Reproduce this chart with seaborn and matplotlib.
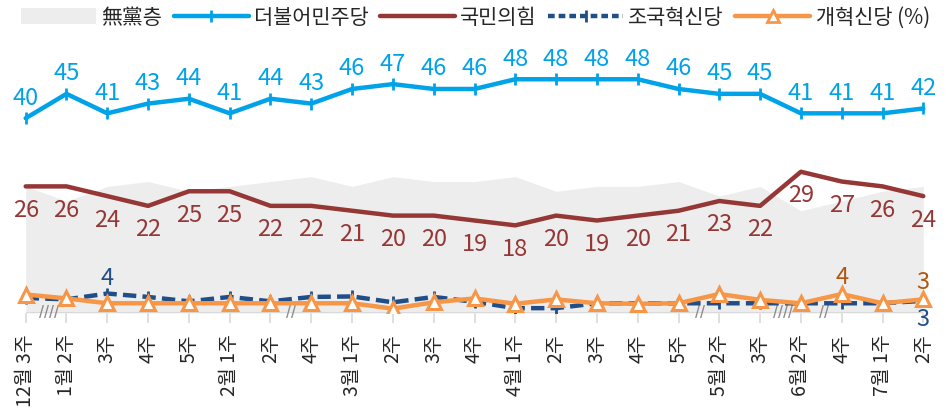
import matplotlib
matplotlib.use("Agg")
import matplotlib.pyplot as plt
import seaborn as sns
import numpy as np
import pandas as pd
from matplotlib.patches import Patch
from matplotlib.lines import Line2D

weeks = ["12월 3주", "1월 2주", "3주", "4주", "5주", "2월 1주", "2주", "4주",
         "3월 1주", "2주", "3주", "4주", "4월 1주", "2주", "3주", "4주", "5주",
         "5월 2주", "3주", "6월 2주", "4주", "7월 1주", "2주"]
none_party = [26, 23, 26, 27, 25, 26, 27, 28, 26, 28, 27, 27, 28, 25, 26, 26, 27, 24, 26, 21, 23, 25, 26]
democratic = [40, 45, 41, 43, 44, 41, 44, 43, 46, 47, 46, 46, 48, 48, 48, 48, 46, 45, 45, 41, 41, 41, 42]
ppp = [26, 26, 24, 22, 25, 25, 22, 22, 21, 20, 20, 19, 18, 20, 19, 20, 21, 23, 22, 29, 27, 26, 24]
rebuilding = [3.1, 2.8, 4.0, 3.3, 2.4, 3.3, 2.4, 3.3, 3.4, 2.2, 3.3, 2.3, 1.0, 1.0, 2.0, 2.0, 2.0, 2.0, 2.0, 2.0, 2.0, 2.0, 2.5]
reform = [3.8, 3.0, 2.0, 2.0, 2.0, 2.0, 2.0, 2.0, 2.0, 0.9, 2.2, 3.0, 1.9, 2.8, 2.0, 1.9, 2.0, 3.9, 2.7, 2.0, 3.9, 2.0, 2.8]
rebuilding_labels = {2: "4", 22: "3"}
reform_labels = {20: "4", 22: "3"}
breaks = [(0.56, "////"), (6.5, "//"), (16.52, "//"), (18.55, "////"), (19.57, "//")]

series_names = ["無黨층", "더불어민주당", "국민의힘", "조국혁신당", "개혁신당 (%)"]

C_GRAY = "#EDEDED"
C_BLUE = "#00A2E8"
C_RED = "#953735"
C_NAVY = "#1F4E89"
C_ORANGE = "#F79646"
C_ORANGE_TXT = "#B1560F"

sns.set_theme(style="white")
plt.rcParams["font.family"] = ["Noto Sans CJK KR", "DejaVu Sans"]

x = np.arange(len(weeks))
df = pd.DataFrame({"x": x, "none": none_party, "dem": democratic, "ppp": ppp,
                   "reb": rebuilding, "ref": reform})

fig = plt.figure(figsize=(9.51, 4.11), dpi=100)
ax = fig.add_axes([0.01415, 0.2384, 0.9696, 0.711])

ax.fill_between(df["x"], 0, df["none"], color=C_GRAY, lw=0, zorder=1)

sns.lineplot(data=df, x="x", y="dem", ax=ax, color=C_BLUE, lw=3.2, marker="|",
             markersize=8, markeredgewidth=2, markeredgecolor=C_BLUE, zorder=5)
sns.lineplot(data=df, x="x", y="ppp", ax=ax, color=C_RED, lw=3.2, zorder=5)
sns.lineplot(data=df, x="x", y="reb", ax=ax, color=C_NAVY, lw=3.2,
             linestyle=(0, (3.0, 1.4)), marker="|", markersize=8,
             markeredgewidth=2, markeredgecolor=C_NAVY, zorder=5)
sns.lineplot(data=df, x="x", y="ref", ax=ax, color=C_ORANGE, lw=3.2, marker="^",
             markersize=10, markerfacecolor="white", markeredgecolor=C_ORANGE,
             markeredgewidth=2.2, zorder=6)

# data labels
for xi, v in zip(x, democratic):
    ax.annotate(str(v), (xi, v), xytext=(0, 20), textcoords="offset pixels",
                ha="center", va="center", fontsize=17, color=C_BLUE, zorder=8)
for xi, v in zip(x, ppp):
    ax.annotate(str(v), (xi, v), xytext=(0, -24), textcoords="offset pixels",
                ha="center", va="center", fontsize=17, color=C_RED, zorder=8)
for i, t in rebuilding_labels.items():
    off = 15 if i == 2 else -19
    ax.annotate(t, (x[i], rebuilding[i]), xytext=(0, off), textcoords="offset pixels",
                ha="center", va="center", fontsize=17, color=C_NAVY, zorder=8,
                annotation_clip=False)
for i, t in reform_labels.items():
    ax.annotate(t, (x[i], reform[i]), xytext=(0, 17), textcoords="offset pixels",
                ha="center", va="center", fontsize=17, color=C_ORANGE_TXT, zorder=8)

# baseline and break marks
ax.hlines(0, 0, len(weeks) - 1, color="#D9D9D9", lw=1.5, zorder=2)
for bx, s in breaks:
    ax.text(bx, 0, s, ha="center", va="center", fontsize=13, color="#8C8C8C",
            zorder=3, family=["Liberation Sans"])

ax.set_xlim(-0.3, len(weeks) - 1 + 0.3)
ax.set_ylim(0, 60)
ax.set_yticks([])
ax.set_xticks(x)
ax.set_xticklabels(weeks, rotation=90, fontsize=14, color="#262626")
ax.tick_params(axis="x", bottom=True, length=7.5, width=1.2, color="#D9D9D9",
               pad=8)
ax.set_xlabel("")
ax.set_ylabel("")
for sp in ax.spines.values():
    sp.set_visible(False)

handles = [
    Patch(facecolor=C_GRAY, edgecolor="none"),
    Line2D([], [], color=C_BLUE, lw=3.2, marker="|", markersize=8, markeredgewidth=2),
    Line2D([], [], color=C_RED, lw=3.2),
    Line2D([], [], color=C_NAVY, lw=3.2, linestyle=(0, (1.5, 0.9)), marker="|",
           markersize=8, markeredgewidth=2),
    Line2D([], [], color=C_ORANGE, lw=3.2, marker="^", markersize=9,
           markerfacecolor="white", markeredgecolor=C_ORANGE, markeredgewidth=2),
]
fig.legend(handles, series_names, loc="center", bbox_to_anchor=(0.50, 0.957),
           ncol=5, frameon=False, fontsize=15, handlelength=3.6, handleheight=0.8,
           handletextpad=0.25, columnspacing=0.55, borderpad=0.1)

fig.savefig("out.png", dpi=100)
